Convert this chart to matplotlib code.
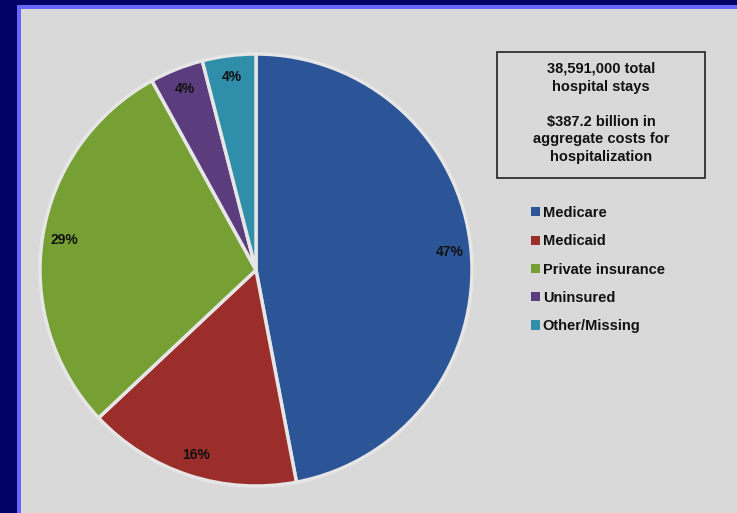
import matplotlib
matplotlib.use("Agg")
import matplotlib.pyplot as plt
from matplotlib.patches import Rectangle

plt.rcParams['font.family'] = ['Liberation Sans', 'DejaVu Sans']
plt.rcParams['font.weight'] = 'bold'

payers = ["Medicare", "Medicaid", "Private insurance", "Uninsured", "Other/Missing"]
shares = [47, 16, 29, 4, 4]
colors = ["#2c5597", "#9b2d2b", "#77a034", "#5b3c7d", "#2f8ea9"]
box_lines = ["38,591,000 total", "hospital stays", "", "$387.2 billion in",
             "aggregate costs for", "hospitalization"]

W, H = 737, 513
fig = plt.figure(figsize=(W / 100, H / 100), dpi=100, facecolor="#000066")
ax = fig.add_axes([0, 0, 1, 1])

# frame: light blue border then gray panel
ax.add_patch(Rectangle((17, 0), W - 17, H - 5, facecolor="#6666ff", edgecolor="none", zorder=0))
ax.add_patch(Rectangle((21, 0), W - 21, H - 9, facecolor="#d9d9d9", edgecolor="none", zorder=0))

wedges, _, pcts = ax.pie(
    shares, colors=colors, startangle=90, counterclock=False,
    center=(256, H - 270), radius=216, frame=True,
    autopct=lambda p: f"{p:.0f}%", pctdistance=0.9,
    wedgeprops=dict(edgecolor="#e6e6e6", linewidth=2.5),
    textprops=dict(fontsize=10, fontweight="bold", color="#111111"),
)
ax.set_xlim(0, W)
ax.set_ylim(0, H)
ax.set_aspect("auto")
ax.axis("off")

# info box
ax.add_patch(Rectangle((497, H - 178), 208, 126, facecolor="#d9d9d9",
                       edgecolor="#222222", linewidth=1.2, zorder=3))
ax.text(601, H - 113, "\n".join(box_lines), ha="center", va="center",
        fontsize=10.5, fontweight="bold", color="#111111", linespacing=1.33, zorder=4)

leg = ax.legend(wedges, payers, loc="upper left",
                bbox_to_anchor=(531 / W, (H - 206) / H), frameon=False,
                prop=dict(size=10.5, weight="bold"), labelspacing=0.98,
                handlelength=0.6, handleheight=0.6, handletextpad=0.2,
                borderpad=0, borderaxespad=0)
for h in leg.legend_handles:
    h.set_edgecolor("none")
    h.set_linewidth(0)
for t in leg.get_texts():
    t.set_color("#111111")

fig.savefig("out.png", dpi=100, facecolor=fig.get_facecolor())
